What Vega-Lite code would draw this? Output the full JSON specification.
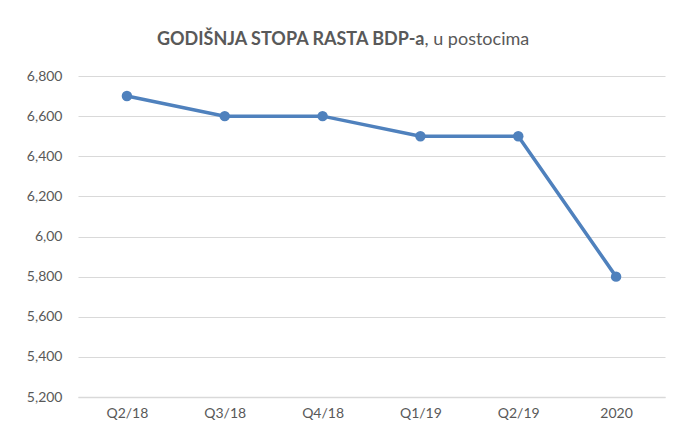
{
  "$schema": "https://vega.github.io/schema/vega-lite/v6.json",
  "autosize": {"type": "none"},
  "width": 587,
  "height": 321,
  "padding": {"left": 78, "top": 76, "right": 10, "bottom": 37},
  "background": "white",
  "config": {
    "font": "Lato",
    "view": {"stroke": null}
  },
  "title": {
    "text": "GODIŠNJA STOPA RASTA BDP-a",
    "subtitle": ", u postocima",
    "anchor": "middle",
    "dx": 53,
    "offset": 20,
    "font": "Lato",
    "fontSize": 18,
    "fontWeight": "bold",
    "color": "#595959",
    "subtitleFont": "Lato",
    "subtitleFontSize": 18,
    "subtitleFontWeight": "normal",
    "subtitleColor": "#595959",
    "subtitlePadding": -18,
    "encode": {
      "title": {"update": {"align": {"value": "right"}}},
      "subtitle": {"update": {"align": {"value": "left"}}}
    }
  },
  "data": {
    "values": [
      {"period": "Q2/18", "rate": 6.7},
      {"period": "Q3/18", "rate": 6.6},
      {"period": "Q4/18", "rate": 6.6},
      {"period": "Q1/19", "rate": 6.5},
      {"period": "Q2/19", "rate": 6.5},
      {"period": "2020", "rate": 5.8}
    ]
  },
  "mark": {"type": "line", "color": "#4f81bd", "strokeWidth": 3.5, "point": {"filled": true, "size": 110, "color": "#4f81bd", "opacity": 1}},
  "encoding": {
    "x": {
      "field": "period",
      "type": "ordinal",
      "sort": null,
      "scale": {"type": "point", "padding": 0.5},
      "axis": {
        "title": null,
        "labelAngle": 0,
        "labelFont": "Lato",
        "labelFontSize": 14,
        "labelColor": "#595959",
        "labelPadding": 9,
        "ticks": false,
        "domain": true,
        "domainColor": "#d9d9d9",
        "domainWidth": 1.5,
        "grid": false
      }
    },
    "y": {
      "field": "rate",
      "type": "quantitative",
      "scale": {"domain": [5.2, 6.8], "nice": false, "zero": false},
      "axis": {
        "title": null,
        "values": [5.2, 5.4, 5.6, 5.8, 6.0, 6.2, 6.4, 6.6, 6.8],
        "labelExpr": "datum.value == 6 ? '6,00' : replace(format(datum.value, '.3f'), '.', ',')",
        "labelFont": "Lato",
        "labelFontSize": 14,
        "labelColor": "#595959",
        "labelPadding": 16,
        "ticks": false,
        "domain": false,
        "grid": true,
        "gridColor": "#d9d9d9",
        "gridWidth": 1.2
      }
    }
  }
}
